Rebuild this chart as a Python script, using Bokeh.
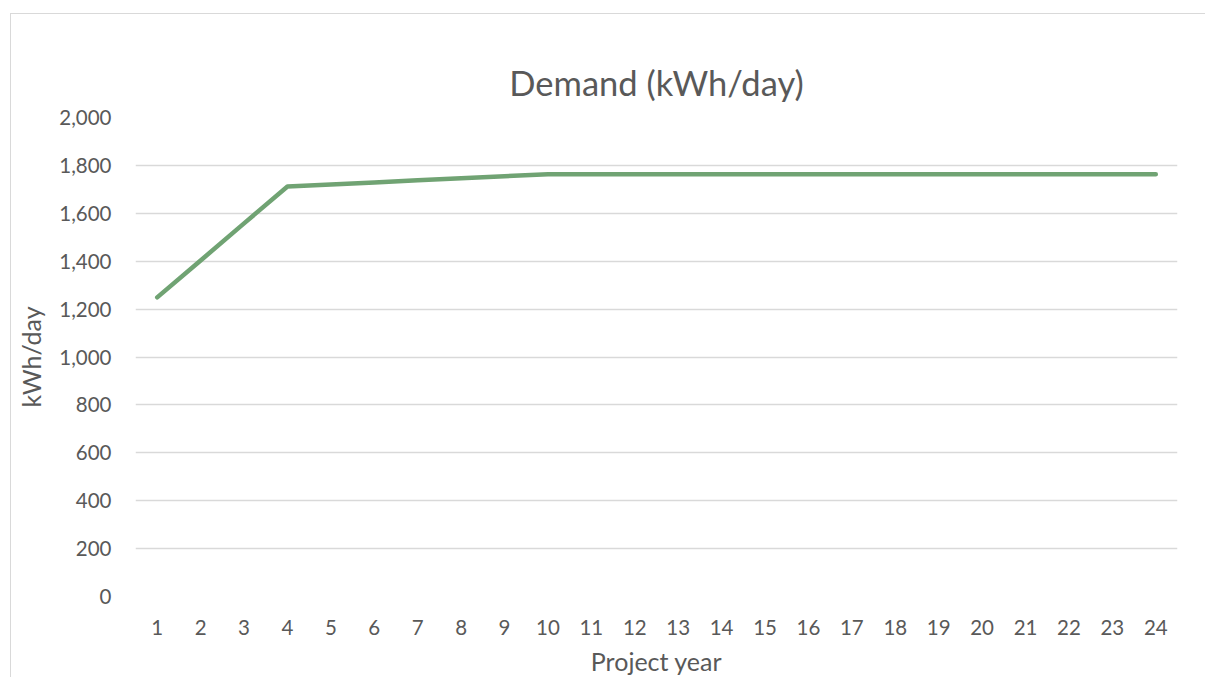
from bokeh.plotting import figure
from bokeh.models import FixedTicker, NumeralTickFormatter, Range1d
from bokeh.embed import file_html
from bokeh.resources import INLINE

years = list(range(1, 25))
demand = [1249, 1403, 1558, 1712, 1720, 1729, 1738, 1746, 1755, 1763,
          1763, 1763, 1763, 1763, 1763, 1763, 1763, 1763, 1763, 1763,
          1763, 1763, 1763, 1763]
y_ticks = list(range(0, 2001, 200))

FONT = "Lato"
TXT = "#595959"

p = figure(width=1195, height=664, output_backend="svg", toolbar_location=None,
           x_range=Range1d(0.5, 24.5), y_range=Range1d(0, 2000),
           min_border_left=124, min_border_right=29, min_border_top=103, min_border_bottom=82,
           title="Demand (kWh/day)")
p.styles = {"margin-left": "10px", "margin-top": "13px",
            "border-left": "1px solid #d9d9d9", "border-top": "1px solid #d9d9d9"}

p.title.align = "center"
p.title.text_font = FONT
p.title.text_font_size = "34.5px"
p.title.text_font_style = "normal"
p.title.text_color = TXT
p.title.standoff = 29

p.outline_line_color = None

p.line(years, demand, line_color="#70a373", line_width=4.5, line_cap="round", line_join="round")

p.xaxis.ticker = FixedTicker(ticks=years)
p.yaxis.ticker = FixedTicker(ticks=y_ticks)
p.yaxis.formatter = NumeralTickFormatter(format="0,0")

for ax in (p.xaxis[0], p.yaxis[0]):
    ax.axis_line_color = None
    ax.major_tick_line_color = None
    ax.minor_tick_line_color = None
    ax.major_label_text_font = FONT
    ax.major_label_text_font_size = "20.5px"
    ax.major_label_text_color = TXT
    ax.axis_label_text_font = FONT
    ax.axis_label_text_font_size = "25px"
    ax.axis_label_text_font_style = "normal"
    ax.axis_label_text_color = TXT

p.xaxis.axis_label = "Project year"
p.yaxis.axis_label = "kWh/day"
p.xaxis.major_label_standoff = 17
p.yaxis.major_label_standoff = 18
p.xaxis.axis_label_standoff = 8
p.yaxis.axis_label_standoff = 10

p.xgrid.grid_line_color = None
p.ygrid.grid_line_color = "#d9d9d9"
p.ygrid.grid_line_width = 1.5

open("out.html", "w").write(file_html(p, INLINE))
